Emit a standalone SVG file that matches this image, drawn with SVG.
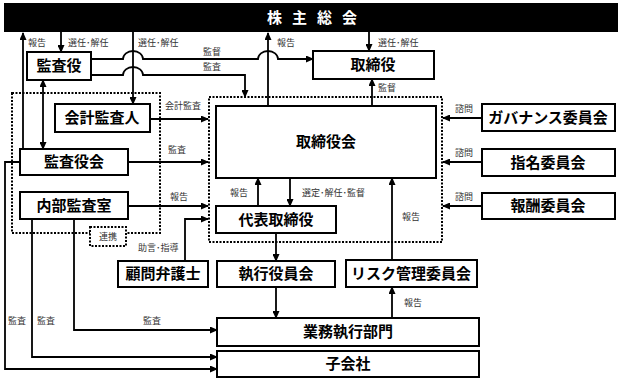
<svg xmlns="http://www.w3.org/2000/svg" width="622" height="381" viewBox="0 0 622 381">
<style>
.box{fill:#fff;stroke:#000;stroke-width:2}
.dot{fill:none;stroke:#000;stroke-width:2;stroke-dasharray:2 1.5}
.t{font-family:"Noto Sans CJK JP","Noto Sans",sans-serif;font-size:15px;font-weight:bold;text-anchor:middle;fill:#000}
.s{font-family:"Noto Sans CJK JP","Noto Sans",sans-serif;font-size:9px;fill:#333}
.c{fill:none;stroke:#000;stroke-width:1.8}
.a{marker-end:url(#ah)}
</style>
<defs>
<marker id="ah" markerUnits="userSpaceOnUse" markerWidth="8" markerHeight="7" refX="7" refY="3.5" orient="auto-start-reverse">
<path d="M0,0 L8,3.5 L0,7 z" fill="#000"/>
</marker>
</defs>
<rect width="622" height="381" fill="#fff"/>

<g id="dotted-groups">
<rect class="dot" x="12" y="93" width="148" height="140"/>
<rect class="dot" x="209" y="97" width="233" height="145"/>
</g>

<g id="connectors">
<path class="c a" d="M23,149 V33"/>
<path class="c a" d="M61,32 V52"/>
<path class="c a" d="M133,32 V104"/>
<path class="c a" d="M91,59 H123 A10,8 0 0 1 143,59 H258 A10,8 0 0 1 278,59 H313"/>
<path class="c a" d="M91,75 H123 A10,8 0 0 1 143,75 H245 V97"/>
<path class="c a" d="M268,106 V33"/>
<path class="c a" d="M369,32 V51"/>
<path class="c a" d="M372,106 V79"/>
<path class="c a" d="M43,80 V149" marker-start="url(#ah)"/>
<path class="c a" d="M150,119 H208"/>
<path class="c a" d="M128,162 H208"/>
<path class="c a" d="M128,206 H208"/>
<path class="c a" d="M185,261 V219 H208"/>
<path class="c a" d="M258,206 V178"/>
<path class="c a" d="M290,178 V206"/>
<path class="c a" d="M276,233 V261"/>
<path class="c a" d="M276,287 V318"/>
<path class="c a" d="M392,260 V178"/>
<path class="c a" d="M392,318 V287"/>
<path class="c a" d="M482,118 H443"/>
<path class="c a" d="M482,162 H443"/>
<path class="c a" d="M482,206 H443"/>
<path class="c a" d="M74,219 V330 H217"/>
<path class="c a" d="M32,219 V357 H217"/>
<path class="c a" d="M20,162 H5 V369 H217"/>
</g>

<g id="labels">
<text class="s" x="28" y="46">報告</text>
<text class="s" x="68" y="46">選任･解任</text>
<text class="s" x="138" y="46">選任･解任</text>
<text class="s" x="203" y="55">監督</text>
<text class="s" x="203" y="70">監査</text>
<text class="s" x="277" y="46">報告</text>
<text class="s" x="378" y="46">選任･解任</text>
<text class="s" x="378" y="91">監督</text>
<text class="s" x="165" y="109">会計監査</text>
<text class="s" x="168" y="153">監査</text>
<text class="s" x="170" y="200">報告</text>
<text class="s" x="138" y="251">助言･指導</text>
<text class="s" x="230" y="196">報告</text>
<text class="s" x="302" y="196">選定･解任･監督</text>
<text class="s" x="402" y="220">報告</text>
<text class="s" x="455" y="112">諮問</text>
<text class="s" x="455" y="156">諮問</text>
<text class="s" x="455" y="200">諮問</text>
<text class="s" x="8" y="324">監査</text>
<text class="s" x="37" y="324">監査</text>
<text class="s" x="143" y="324">監査</text>
<text class="s" x="404" y="306">報告</text>
</g>

<g id="n-kabunushi">
<rect x="4" y="3" width="614" height="29" fill="#000"/>
<text x="267" y="23" style="font-family:'Noto Sans CJK JP',sans-serif;font-size:15px;font-weight:bold;fill:#fff;letter-spacing:10px">株主総会</text>
</g>
<g id="n-kansayaku"><rect class="box" x="27" y="52" width="64" height="28"/><text class="t" x="59" y="71">監査役</text></g>
<g id="n-torishimariyaku"><rect class="box" x="313" y="51" width="121" height="28"/><text class="t" x="373" y="70">取締役</text></g>
<g id="n-kaikei"><rect class="box" x="55" y="104" width="95" height="28"/><text class="t" x="102" y="123">会計監査人</text></g>
<g id="n-kansayakukai"><rect class="box" x="20" y="149" width="108" height="26"/><text class="t" x="74" y="167">監査役会</text></g>
<g id="n-naibu"><rect class="box" x="20" y="192" width="108" height="27"/><text class="t" x="74" y="211">内部監査室</text></g>
<g id="n-renkei"><rect class="dot" x="90" y="227" width="36" height="19" fill="#fff" style="fill:#fff"/><text class="s" x="108" y="240" text-anchor="middle">連携</text></g>
<g id="n-torishimariyakukai"><rect class="box" x="216" y="106" width="220" height="72"/><text class="t" x="326" y="147">取締役会</text></g>
<g id="n-daihyo"><rect class="box" x="216" y="206" width="120" height="27"/><text class="t" x="276" y="225">代表取締役</text></g>
<g id="n-governance"><rect class="box" x="482" y="104" width="133" height="27"/><text class="t" x="548" y="123">ガバナンス委員会</text></g>
<g id="n-shimei"><rect class="box" x="482" y="149" width="133" height="27"/><text class="t" x="548" y="168">指名委員会</text></g>
<g id="n-hoshu"><rect class="box" x="482" y="193" width="133" height="26"/><text class="t" x="548" y="211">報酬委員会</text></g>
<g id="n-komon"><rect class="box" x="118" y="261" width="90" height="26"/><text class="t" x="163" y="279">顧問弁護士</text></g>
<g id="n-shikko"><rect class="box" x="217" y="261" width="118" height="26"/><text class="t" x="276" y="279">執行役員会</text></g>
<g id="n-risk"><rect class="box" x="346" y="260" width="131" height="27"/><text class="t" x="411" y="279">リスク管理委員会</text></g>
<g id="n-gyomu"><rect class="box" x="217" y="318" width="262" height="28"/><text class="t" x="348" y="337">業務執行部門</text></g>
<g id="n-kogaisha"><rect class="box" x="217" y="351" width="262" height="26"/><text class="t" x="348" y="369">子会社</text></g>
</svg>
